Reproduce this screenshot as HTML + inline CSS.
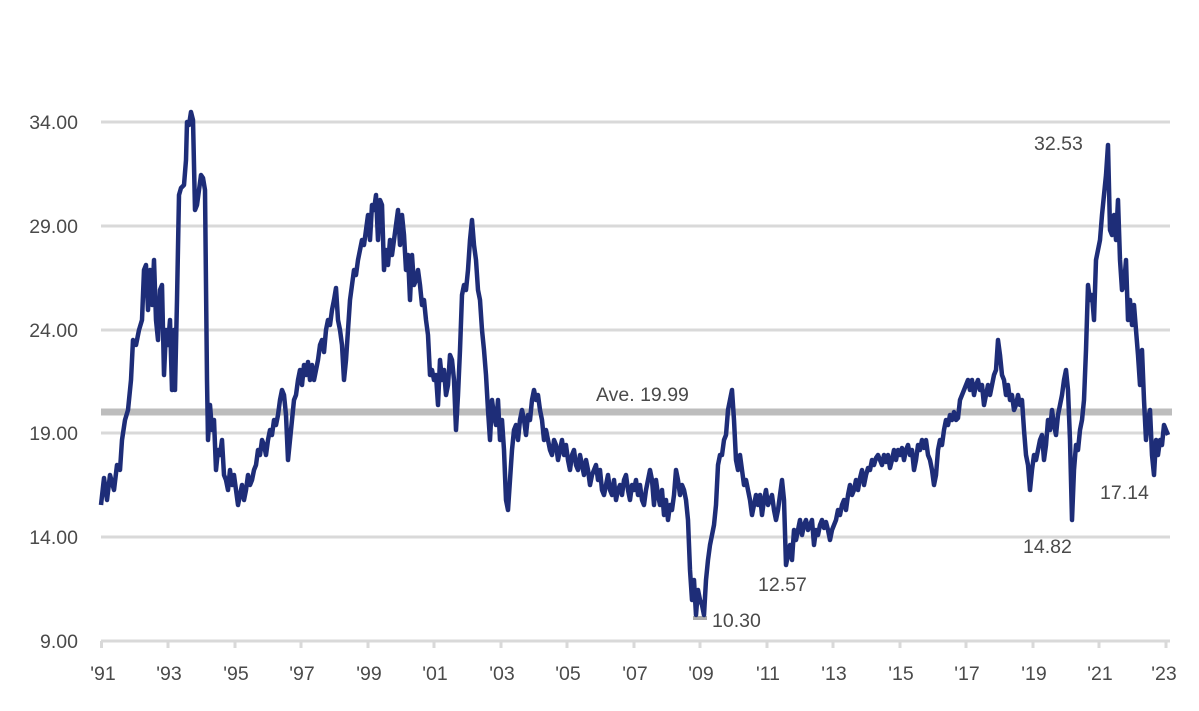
<!DOCTYPE html>
<html><head><meta charset="utf-8"><style>
html,body{margin:0;padding:0;background:#fff;}
svg text{font-family:"Liberation Sans",sans-serif;fill:#4a4a4a;font-size:19.5px;}
</style></head><body>
<svg width="1199" height="706" viewBox="0 0 1199 706" xmlns="http://www.w3.org/2000/svg">
<g stroke="#d9d9d9" stroke-width="3">
<line x1="101" y1="122" x2="1170" y2="122"/>
<line x1="101" y1="226" x2="1170" y2="226"/>
<line x1="101" y1="330" x2="1170" y2="330"/>
<line x1="101" y1="433" x2="1170" y2="433"/>
<line x1="101" y1="537" x2="1170" y2="537"/>
<line x1="101" y1="641" x2="1170" y2="641"/>
</g>
<g stroke="#d9d9d9" stroke-width="3">
<line x1="101.5" y1="641" x2="101.5" y2="648"/><line x1="168" y1="641" x2="168" y2="648"/><line x1="235" y1="641" x2="235" y2="648"/><line x1="301" y1="641" x2="301" y2="648"/><line x1="368" y1="641" x2="368" y2="648"/><line x1="434" y1="641" x2="434" y2="648"/><line x1="501" y1="641" x2="501" y2="648"/><line x1="567" y1="641" x2="567" y2="648"/><line x1="634" y1="641" x2="634" y2="648"/><line x1="700" y1="641" x2="700" y2="648"/><line x1="767" y1="641" x2="767" y2="648"/><line x1="833" y1="641" x2="833" y2="648"/><line x1="900" y1="641" x2="900" y2="648"/><line x1="966" y1="641" x2="966" y2="648"/><line x1="1033" y1="641" x2="1033" y2="648"/><line x1="1099" y1="641" x2="1099" y2="648"/><line x1="1166" y1="641" x2="1166" y2="648"/>
</g>
<g text-anchor="end">
<text x="78" y="129">34.00</text><text x="78" y="233">29.00</text><text x="78" y="337">24.00</text><text x="78" y="440">19.00</text><text x="78" y="544">14.00</text><text x="78" y="648">9.00</text>
</g>
<g text-anchor="middle">
<text x="103" y="680">'91</text><text x="169" y="680">'93</text><text x="236" y="680">'95</text><text x="302" y="680">'97</text><text x="369" y="680">'99</text><text x="435" y="680">'01</text><text x="502" y="680">'03</text><text x="568" y="680">'05</text><text x="635" y="680">'07</text><text x="701" y="680">'09</text><text x="768" y="680">'11</text><text x="834" y="680">'13</text><text x="901" y="680">'15</text><text x="967" y="680">'17</text><text x="1034" y="680">'19</text><text x="1100" y="680">'21</text><text x="1164" y="680">'23</text>
</g>
<line x1="101" y1="412" x2="1172" y2="412" stroke="#bdbdbd" stroke-width="7"/>
<line x1="693" y1="618" x2="707" y2="618" stroke="#aaa" stroke-width="4"/>
<polyline fill="none" stroke="#1e2d78" stroke-width="4.5" stroke-linejoin="round" points="101,505 104,478 107,500 110,475 114,490 117,465 120,470 122,440 125,420 128,410 131,380 133,340 136,345 139,330 142,320 144,270 146,265 148,310 150,270 152,305 154,260 156,320 158,340 160,290 162,285 164,375 166,330 168,345 170,320 172,390 174,330 175,390 177,300 179,195 181,188 184,185 186,160 187,122 189,125 191,112 193,120 195,210 197,205 199,190 201,175 203,178 205,190 207,380 208,440 210,405 212,430 214,420 216,470 218,450 220,455 222,440 224,475 226,480 228,490 230,470 232,485 234,475 236,490 238,505 240,495 242,485 244,500 246,490 248,475 250,485 252,480 254,470 256,465 258,450 260,455 262,440 264,445 266,455 268,440 270,430 272,435 274,420 276,425 278,415 280,400 282,390 284,395 286,415 288,460 290,440 292,420 294,400 296,395 298,380 300,370 302,385 304,365 306,375 308,362 310,380 312,365 314,380 316,370 318,360 320,345 322,340 324,352 326,330 328,320 330,325 332,310 334,300 336,288 338,320 340,330 342,345 344,380 346,360 348,330 350,300 352,285 354,270 356,275 358,260 360,250 362,240 364,245 366,230 368,215 370,240 372,205 374,210 376,195 378,240 380,200 382,205 384,270 386,250 388,265 390,240 392,255 394,240 396,225 398,210 400,245 402,215 404,235 406,270 408,255 410,300 412,255 414,285 416,280 418,270 420,285 422,305 424,300 426,320 428,335 430,375 432,370 434,380 436,375 438,405 440,360 442,380 444,370 446,395 448,385 450,355 452,360 454,380 456,430 458,395 460,350 462,295 464,285 466,290 468,270 470,240 472,220 474,245 476,260 478,290 480,300 482,330 484,350 486,375 488,410 490,440 492,400 494,415 496,425 498,400 500,440 502,420 504,450 506,500 508,510 510,480 512,450 514,430 516,425 518,440 520,420 522,410 524,420 526,435 528,415 530,420 532,400 534,390 536,400 538,395 540,410 542,420 544,440 546,430 548,440 550,450 552,455 554,440 556,445 558,460 560,450 562,440 564,455 566,445 568,460 570,470 572,455 574,450 576,465 578,470 580,455 582,465 584,475 586,460 588,470 590,485 592,475 594,470 596,465 598,480 600,470 602,490 604,495 606,485 608,475 610,490 612,495 614,480 616,500 618,490 620,485 622,495 624,480 626,475 628,490 630,500 632,485 634,490 636,480 638,495 640,485 642,500 644,505 646,490 648,480 650,470 652,480 654,505 656,480 658,495 660,505 662,490 664,515 666,500 668,520 670,505 672,510 674,495 676,470 678,480 680,495 682,485 684,490 686,500 688,520 690,570 692,600 694,580 696,615 698,590 700,600 702,605 704,615 706,580 708,560 710,545 712,535 714,525 716,505 718,465 720,455 722,455 724,440 726,435 728,410 730,400 732,390 734,420 736,460 738,470 740,455 742,470 744,485 746,480 748,490 750,500 752,515 754,505 756,495 758,505 760,495 762,515 764,500 766,490 768,505 770,500 772,495 774,510 776,520 778,510 780,495 782,480 784,500 786,565 788,555 790,545 792,560 794,530 796,540 798,530 800,520 802,535 804,525 806,520 808,530 810,525 812,520 814,545 816,530 818,535 820,525 822,520 824,528 826,522 828,530 830,540 832,530 834,525 836,520 838,510 840,515 842,505 844,500 846,510 848,495 850,485 852,495 854,490 856,480 858,490 860,478 862,470 864,485 866,475 868,468 870,470 872,460 874,465 876,458 878,455 880,460 882,465 884,455 886,462 888,455 890,468 892,460 894,450 896,460 898,450 900,455 902,448 904,460 906,450 908,445 910,455 912,450 914,470 916,460 918,445 920,450 922,440 924,448 926,440 928,455 930,460 932,470 934,485 936,475 938,450 940,440 942,445 944,430 946,420 948,425 950,415 952,420 954,412 956,420 958,418 960,400 962,395 964,390 966,385 968,380 970,390 972,380 974,395 976,385 978,380 980,390 982,385 984,405 986,395 988,385 990,395 992,385 994,375 996,370 998,340 1000,355 1002,375 1004,380 1006,395 1008,385 1010,400 1012,395 1014,410 1016,405 1018,395 1020,405 1022,400 1024,430 1026,455 1028,465 1030,490 1032,470 1034,455 1036,460 1038,450 1040,440 1042,435 1044,460 1046,445 1048,420 1050,430 1052,410 1054,425 1056,435 1058,415 1060,405 1062,395 1064,380 1066,370 1068,390 1070,440 1072,520 1074,470 1076,445 1078,450 1080,430 1082,420 1084,400 1086,350 1088,285 1090,300 1092,295 1094,320 1096,260 1098,250 1100,240 1102,215 1104,195 1106,175 1108,145 1110,230 1112,235 1114,215 1116,240 1118,200 1120,260 1122,290 1124,285 1126,260 1128,320 1130,300 1132,325 1134,305 1136,330 1138,355 1140,385 1142,350 1144,400 1146,440 1148,420 1150,410 1152,455 1154,475 1156,440 1158,455 1160,440 1162,445 1164,425 1166,430 1168,435"/>
<text x="596" y="401">Ave. 19.99</text>
<text x="1034" y="150">32.53</text>
<text x="1100" y="499">17.14</text>
<text x="1023" y="553">14.82</text>
<text x="758" y="591">12.57</text>
<text x="712" y="627">10.30</text>
</svg>
</body></html>
